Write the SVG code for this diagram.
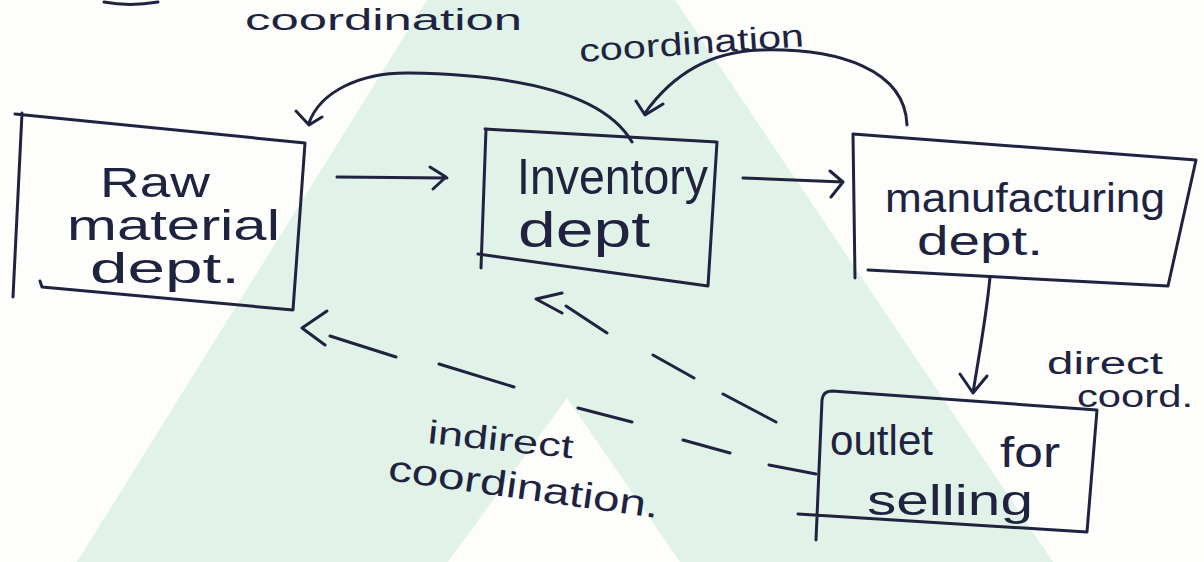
<svg xmlns="http://www.w3.org/2000/svg" width="1204" height="562" viewBox="0 0 1204 562">
  <defs>
    <style>
      .ink { fill: none; stroke: #20233f; stroke-width: 3; stroke-linecap: round; stroke-linejoin: round; }
      .hand { font-family: "Liberation Sans", "DejaVu Sans", sans-serif; fill: #20233f; }
    </style>
  </defs>

  <!-- paper and faint watermark -->
  <rect x="0" y="0" width="1204" height="562" fill="#fdfdfc"/>
  <path d="M427,0 L675,0 L1053,562 L77,562 Z M567,398 L448,562 L680,562 Z" fill="#e1f2e8" fill-rule="evenodd"/>

  <!-- heading fragment at the top edge -->
  <g id="heading">
    <path class="ink" d="M104,2 C120,5 140,5 158,2"/>
    <text class="hand" x="245" y="30" font-size="30" textLength="277" lengthAdjust="spacingAndGlyphs">coordination</text>
  </g>

  <!-- departments -->
  <g id="node-raw">
    <path class="ink" d="M22,113 L13,297 M15,114 L305,143 L293,310 L42,287 L40,281"/>
    <text class="hand" x="100" y="197" font-size="42" textLength="110" lengthAdjust="spacingAndGlyphs">Raw</text>
    <text class="hand" x="67" y="240" font-size="42" textLength="213" lengthAdjust="spacingAndGlyphs">material</text>
    <text class="hand" x="90" y="283" font-size="42" textLength="150" lengthAdjust="spacingAndGlyphs">dept.</text>
  </g>

  <g id="node-inventory">
    <path class="ink" d="M486,129 L481,268 M485,129 L717,142 L708,286 L478,254"/>
    <text class="hand" x="517" y="194" font-size="50" textLength="191" lengthAdjust="spacingAndGlyphs">Inventory</text>
    <text class="hand" x="518" y="247" font-size="50" textLength="132" lengthAdjust="spacingAndGlyphs">dept</text>
  </g>

  <g id="node-manufacturing">
    <path class="ink" d="M853,134 L855,278 M853,134 L1196,160 L1168,286 L868,270"/>
    <text class="hand" x="885" y="212" font-size="40" textLength="280" lengthAdjust="spacingAndGlyphs">manufacturing</text>
    <text class="hand" x="917" y="255" font-size="40" textLength="126" lengthAdjust="spacingAndGlyphs">dept.</text>
  </g>

  <g id="node-outlet">
    <path class="ink" d="M816,540 L822,400 Q823,391 832,391 L1097,410 L1087,532 L798,514"/>
    <text class="hand" x="830" y="455" font-size="42" textLength="103" lengthAdjust="spacingAndGlyphs">outlet</text>
    <text class="hand" x="1000" y="467" font-size="42" textLength="60" lengthAdjust="spacingAndGlyphs">for</text>
    <text class="hand" x="867" y="515" font-size="42" textLength="166" lengthAdjust="spacingAndGlyphs">selling</text>
  </g>

  <!-- connectors -->
  <g id="connectors">
    <!-- raw material to inventory -->
    <path class="ink" d="M337,177 L447,178 M430,167 L446,177 L433,189"/>
    <!-- inventory to manufacturing -->
    <path class="ink" d="M743,178 L843,182 M830,171 L843,182 L831,197"/>
    <!-- manufacturing to outlet (direct) -->
    <path class="ink" d="M990,277 C986,320 978,360 973,393 M960,374 L973,393 L987,376"/>
    <!-- inventory back to raw material -->
    <path class="ink" d="M632,142 C605,95 525,75 410,73 C360,72 320,92 309,123 M296,111 L309,125 L322,117"/>
    <!-- manufacturing back to inventory -->
    <path class="ink" d="M907,125 C905,70 840,48 760,50 C700,52 665,85 645,113 M636,101 L645,115 L663,104"/>
    <!-- outlet to inventory (indirect, dashed) -->
    <path class="ink" d="M776,422 L723,394 M694,378 L653,355 M607,333 L566,306 M562,293 L536,299 L562,313"/>
    <!-- outlet to raw material (indirect, dashed) -->
    <path class="ink" d="M816,474 L769,465 M730,453 L683,440 M632,422 L578,408 M514,387 L439,364 M396,357 L330,336 M327,311 L302,328 L325,345"/>

    <text class="hand" x="580" y="62" font-size="32" textLength="225" lengthAdjust="spacingAndGlyphs" transform="rotate(-4 580 62)">coordination</text>
    <text class="hand" x="1047" y="374" font-size="31" textLength="116" lengthAdjust="spacingAndGlyphs">direct</text>
    <text class="hand" x="1077" y="407" font-size="31" textLength="116" lengthAdjust="spacingAndGlyphs">coord.</text>
    <text class="hand" x="427" y="443" font-size="33" textLength="146" lengthAdjust="spacingAndGlyphs" transform="rotate(6 427 443)">indirect</text>
    <text class="hand" x="387" y="480" font-size="36" textLength="273" lengthAdjust="spacingAndGlyphs" transform="rotate(8 387 480)">coordination.</text>
  </g>
</svg>
